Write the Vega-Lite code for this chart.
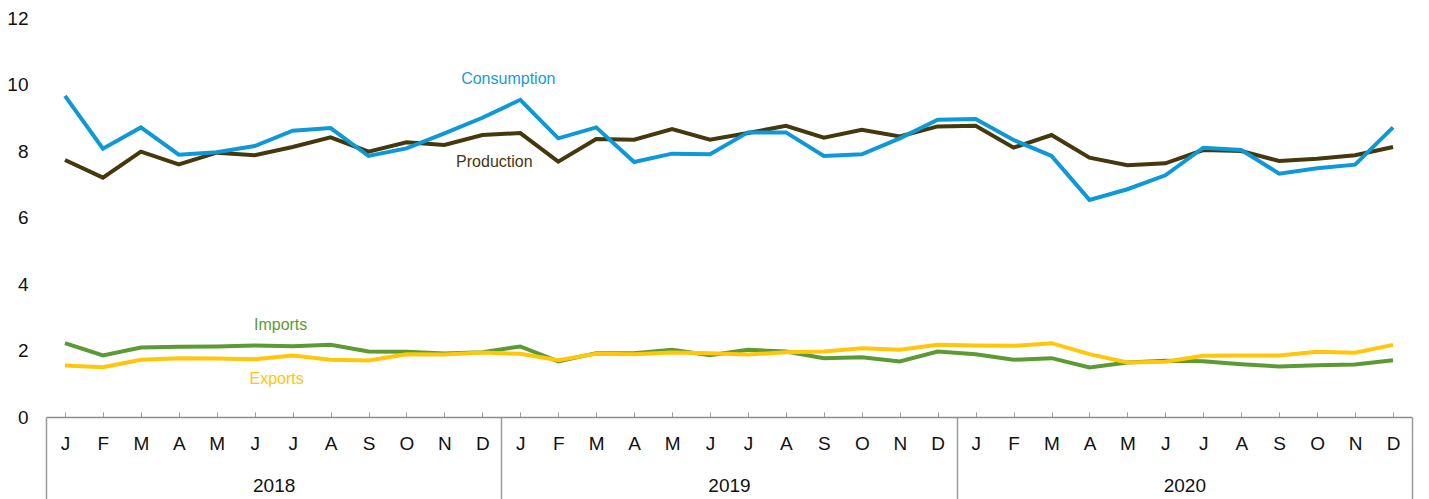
{
  "$schema": "https://vega.github.io/schema/vega-lite/v6.json",
  "width": 1366,
  "height": 399,
  "autosize": {"type": "none"},
  "padding": {"left": 46, "top": 18, "right": 17, "bottom": 82},
  "config": {
    "view": {"stroke": null},
    "font": "Liberation Sans",
    "axis": {"labelFont": "Liberation Sans", "labelFontSize": 19, "labelColor": "#111111"}
  },
  "datasets": {
    "series": [
      {"t":"2018-01","s":"Production","v":7.73},{"t":"2018-02","s":"Production","v":7.20},{"t":"2018-03","s":"Production","v":7.98},{"t":"2018-04","s":"Production","v":7.60},{"t":"2018-05","s":"Production","v":7.95},{"t":"2018-06","s":"Production","v":7.87},{"t":"2018-07","s":"Production","v":8.12},{"t":"2018-08","s":"Production","v":8.41},{"t":"2018-09","s":"Production","v":7.98},{"t":"2018-10","s":"Production","v":8.26},{"t":"2018-11","s":"Production","v":8.18},{"t":"2018-12","s":"Production","v":8.48},
      {"t":"2019-01","s":"Production","v":8.54},{"t":"2019-02","s":"Production","v":7.68},{"t":"2019-03","s":"Production","v":8.36},{"t":"2019-04","s":"Production","v":8.34},{"t":"2019-05","s":"Production","v":8.66},{"t":"2019-06","s":"Production","v":8.34},{"t":"2019-07","s":"Production","v":8.54},{"t":"2019-08","s":"Production","v":8.76},{"t":"2019-09","s":"Production","v":8.40},{"t":"2019-10","s":"Production","v":8.64},{"t":"2019-11","s":"Production","v":8.44},{"t":"2019-12","s":"Production","v":8.74},
      {"t":"2020-01","s":"Production","v":8.76},{"t":"2020-02","s":"Production","v":8.10},{"t":"2020-03","s":"Production","v":8.48},{"t":"2020-04","s":"Production","v":7.80},{"t":"2020-05","s":"Production","v":7.57},{"t":"2020-06","s":"Production","v":7.63},{"t":"2020-07","s":"Production","v":8.03},{"t":"2020-08","s":"Production","v":8.00},{"t":"2020-09","s":"Production","v":7.70},{"t":"2020-10","s":"Production","v":7.77},{"t":"2020-11","s":"Production","v":7.87},{"t":"2020-12","s":"Production","v":8.12},
      {"t":"2018-01","s":"Imports","v":2.22},{"t":"2018-02","s":"Imports","v":1.85},{"t":"2018-03","s":"Imports","v":2.09},{"t":"2018-04","s":"Imports","v":2.11},{"t":"2018-05","s":"Imports","v":2.12},{"t":"2018-06","s":"Imports","v":2.15},{"t":"2018-07","s":"Imports","v":2.13},{"t":"2018-08","s":"Imports","v":2.17},{"t":"2018-09","s":"Imports","v":1.97},{"t":"2018-10","s":"Imports","v":1.96},{"t":"2018-11","s":"Imports","v":1.91},{"t":"2018-12","s":"Imports","v":1.95},
      {"t":"2019-01","s":"Imports","v":2.12},{"t":"2019-02","s":"Imports","v":1.67},{"t":"2019-03","s":"Imports","v":1.92},{"t":"2019-04","s":"Imports","v":1.92},{"t":"2019-05","s":"Imports","v":2.02},{"t":"2019-06","s":"Imports","v":1.86},{"t":"2019-07","s":"Imports","v":2.02},{"t":"2019-08","s":"Imports","v":1.97},{"t":"2019-09","s":"Imports","v":1.77},{"t":"2019-10","s":"Imports","v":1.80},{"t":"2019-11","s":"Imports","v":1.67},{"t":"2019-12","s":"Imports","v":1.97},
      {"t":"2020-01","s":"Imports","v":1.89},{"t":"2020-02","s":"Imports","v":1.72},{"t":"2020-03","s":"Imports","v":1.77},{"t":"2020-04","s":"Imports","v":1.49},{"t":"2020-05","s":"Imports","v":1.64},{"t":"2020-06","s":"Imports","v":1.69},{"t":"2020-07","s":"Imports","v":1.68},{"t":"2020-08","s":"Imports","v":1.59},{"t":"2020-09","s":"Imports","v":1.52},{"t":"2020-10","s":"Imports","v":1.56},{"t":"2020-11","s":"Imports","v":1.58},{"t":"2020-12","s":"Imports","v":1.71},
      {"t":"2018-01","s":"Consumption","v":9.66},{"t":"2018-02","s":"Consumption","v":8.07},{"t":"2018-03","s":"Consumption","v":8.71},{"t":"2018-04","s":"Consumption","v":7.89},{"t":"2018-05","s":"Consumption","v":7.96},{"t":"2018-06","s":"Consumption","v":8.15},{"t":"2018-07","s":"Consumption","v":8.61},{"t":"2018-08","s":"Consumption","v":8.69},{"t":"2018-09","s":"Consumption","v":7.85},{"t":"2018-10","s":"Consumption","v":8.08},{"t":"2018-11","s":"Consumption","v":8.53},{"t":"2018-12","s":"Consumption","v":9.00},
      {"t":"2019-01","s":"Consumption","v":9.54},{"t":"2019-02","s":"Consumption","v":8.38},{"t":"2019-03","s":"Consumption","v":8.71},{"t":"2019-04","s":"Consumption","v":7.67},{"t":"2019-05","s":"Consumption","v":7.92},{"t":"2019-06","s":"Consumption","v":7.90},{"t":"2019-07","s":"Consumption","v":8.56},{"t":"2019-08","s":"Consumption","v":8.56},{"t":"2019-09","s":"Consumption","v":7.85},{"t":"2019-10","s":"Consumption","v":7.90},{"t":"2019-11","s":"Consumption","v":8.38},{"t":"2019-12","s":"Consumption","v":8.94},
      {"t":"2020-01","s":"Consumption","v":8.96},{"t":"2020-02","s":"Consumption","v":8.33},{"t":"2020-03","s":"Consumption","v":7.85},{"t":"2020-04","s":"Consumption","v":6.53},{"t":"2020-05","s":"Consumption","v":6.85},{"t":"2020-06","s":"Consumption","v":7.27},{"t":"2020-07","s":"Consumption","v":8.10},{"t":"2020-08","s":"Consumption","v":8.03},{"t":"2020-09","s":"Consumption","v":7.32},{"t":"2020-10","s":"Consumption","v":7.48},{"t":"2020-11","s":"Consumption","v":7.59},{"t":"2020-12","s":"Consumption","v":8.71},
      {"t":"2018-01","s":"Exports","v":1.55},{"t":"2018-02","s":"Exports","v":1.50},{"t":"2018-03","s":"Exports","v":1.72},{"t":"2018-04","s":"Exports","v":1.77},{"t":"2018-05","s":"Exports","v":1.76},{"t":"2018-06","s":"Exports","v":1.74},{"t":"2018-07","s":"Exports","v":1.85},{"t":"2018-08","s":"Exports","v":1.72},{"t":"2018-09","s":"Exports","v":1.70},{"t":"2018-10","s":"Exports","v":1.89},{"t":"2018-11","s":"Exports","v":1.88},{"t":"2018-12","s":"Exports","v":1.94},
      {"t":"2019-01","s":"Exports","v":1.90},{"t":"2019-02","s":"Exports","v":1.71},{"t":"2019-03","s":"Exports","v":1.90},{"t":"2019-04","s":"Exports","v":1.89},{"t":"2019-05","s":"Exports","v":1.94},{"t":"2019-06","s":"Exports","v":1.92},{"t":"2019-07","s":"Exports","v":1.88},{"t":"2019-08","s":"Exports","v":1.95},{"t":"2019-09","s":"Exports","v":1.97},{"t":"2019-10","s":"Exports","v":2.07},{"t":"2019-11","s":"Exports","v":2.02},{"t":"2019-12","s":"Exports","v":2.17},
      {"t":"2020-01","s":"Exports","v":2.15},{"t":"2020-02","s":"Exports","v":2.14},{"t":"2020-03","s":"Exports","v":2.22},{"t":"2020-04","s":"Exports","v":1.89},{"t":"2020-05","s":"Exports","v":1.64},{"t":"2020-06","s":"Exports","v":1.66},{"t":"2020-07","s":"Exports","v":1.84},{"t":"2020-08","s":"Exports","v":1.85},{"t":"2020-09","s":"Exports","v":1.85},{"t":"2020-10","s":"Exports","v":1.96},{"t":"2020-11","s":"Exports","v":1.93},{"t":"2020-12","s":"Exports","v":2.17}
    ],
    "years": [{"year": "2018"}, {"year": "2019"}, {"year": "2020"}]
  },
  "layer": [
    {
      "layer": [
        {
          "data": {"name": "series"},
          "mark": {"type": "line", "strokeWidth": 4},
          "encoding": {
            "x": {
              "field": "t", "type": "ordinal",
              "scale": {"type": "point", "padding": 0.5},
              "axis": {
                "title": null, "labelAngle": 0, "labelOverlap": false,
                "labelExpr": "['J','F','M','A','M','J','J','A','S','O','N','D'][toNumber(substring(datum.value,5,7))-1]",
                "domainColor": "#8c8c8c", "domainWidth": 1.5,
                "tickColor": "#9a9a9a", "tickSize": -5, "tickWidth": 1,
                "labelPadding": 22
              }
            },
            "y": {
              "field": "v", "type": "quantitative",
              "scale": {"domain": [0, 12], "nice": false},
              "axis": {"title": null, "values": [0, 2, 4, 6, 8, 10, 12], "grid": false, "domain": false, "ticks": false, "labelPadding": 18}
            },
            "color": {
              "field": "s", "type": "nominal",
              "scale": {"domain": ["Production", "Imports", "Consumption", "Exports"], "range": ["#45380d", "#5c9a33", "#0d98d8", "#ffc60a"]},
              "legend": null
            }
          }
        },
        {
          "data": {"values": [{"t": "2019-01", "v": 10.18, "label": "Consumption"}]},
          "mark": {"type": "text", "fontSize": 16, "color": "#1a9ad8", "dx": -12, "baseline": "middle"},
          "encoding": {"x": {"field": "t", "type": "ordinal"}, "y": {"field": "v", "type": "quantitative"}, "text": {"field": "label"}}
        },
        {
          "data": {"values": [{"t": "2018-12", "v": 7.67, "label": "Production"}]},
          "mark": {"type": "text", "fontSize": 16, "color": "#45380d", "dx": 12, "baseline": "middle"},
          "encoding": {"x": {"field": "t", "type": "ordinal"}, "y": {"field": "v", "type": "quantitative"}, "text": {"field": "label"}}
        },
        {
          "data": {"values": [{"t": "2018-07", "v": 2.77, "label": "Imports"}]},
          "mark": {"type": "text", "fontSize": 16, "color": "#5c9a33", "dx": -12, "baseline": "middle"},
          "encoding": {"x": {"field": "t", "type": "ordinal"}, "y": {"field": "v", "type": "quantitative"}, "text": {"field": "label"}}
        },
        {
          "data": {"values": [{"t": "2018-07", "v": 1.14, "label": "Exports"}]},
          "mark": {"type": "text", "fontSize": 16, "color": "#ffc60a", "dx": -16, "baseline": "middle"},
          "encoding": {"x": {"field": "t", "type": "ordinal"}, "y": {"field": "v", "type": "quantitative"}, "text": {"field": "label"}}
        }
      ]
    },
    {
      "data": {"name": "years"},
      "mark": {"type": "point", "opacity": 0},
      "encoding": {
        "x": {
          "field": "year", "type": "ordinal",
          "scale": {"type": "band", "paddingInner": 0, "paddingOuter": 0},
          "axis": {
            "title": null, "orient": "bottom", "labelAngle": 0, "domain": false,
            "tickBand": "extent", "tickSize": 82, "tickColor": "#9a9a9a", "tickWidth": 1.5,
            "labelPadding": -23
          }
        },
        "y": {"datum": 0, "type": "quantitative"}
      }
    }
  ],
  "resolve": {"scale": {"x": "independent"}, "axis": {"x": "independent"}}
}
